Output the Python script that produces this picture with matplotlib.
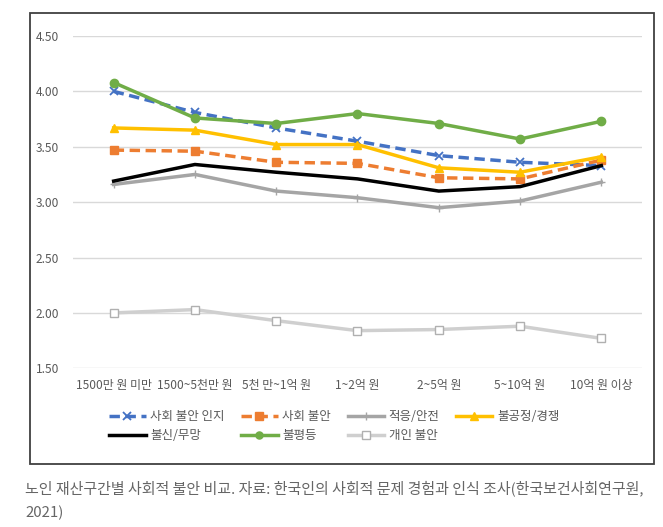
import matplotlib.pyplot as plt
from matplotlib.patches import Rectangle

plt.rcParams['font.family'] = ['Noto Sans CJK KR', 'DejaVu Sans']

# 재산 구간
categories = ["1500만 원 미만", "1500~5천만 원", "5천 만~1억 원", "1~2억 원",
              "2~5억 원", "5~10억 원", "10억 원 이상"]

# 시리즈 값
awareness = [4.00, 3.81, 3.67, 3.55, 3.42, 3.36, 3.33]   # 사회 불안 인지
social = [3.47, 3.46, 3.36, 3.35, 3.22, 3.21, 3.38]      # 사회 불안
adapt = [3.16, 3.25, 3.10, 3.04, 2.95, 3.01, 3.18]       # 적응/안전
unfair = [3.67, 3.65, 3.52, 3.52, 3.31, 3.27, 3.41]      # 불공정/경쟁
distrust = [3.19, 3.34, 3.27, 3.21, 3.10, 3.14, 3.33]    # 불신/무망
inequality = [4.08, 3.76, 3.71, 3.80, 3.71, 3.57, 3.73]  # 불평등
personal = [2.00, 2.03, 1.93, 1.84, 1.85, 1.88, 1.77]    # 개인 불안

yticks = [1.5, 2.0, 2.5, 3.0, 3.5, 4.0, 4.5]

fig = plt.figure(figsize=(6.63, 5.27), dpi=100)

# 차트 테두리
fig.patches.append(Rectangle((30 / 663, 1 - 464 / 527), 624 / 663, 451 / 527,
                             transform=fig.transFigure, fill=False,
                             edgecolor="#404040", linewidth=1.3))

ax = fig.add_axes([73 / 663, 1 - 368.3 / 527, 569 / 663, 332.3 / 527])
x = list(range(len(categories)))

h1, = ax.plot(x, awareness, color="#4472C4", linewidth=2.5, linestyle=(0, (3, 1.6)),
              marker="x", markersize=6, markeredgewidth=1.3, label="사회 불안 인지")
h2, = ax.plot(x, social, color="#ED7D31", linewidth=2.5, linestyle=(0, (3, 1.6)),
              marker="s", markersize=6, label="사회 불안")
h3, = ax.plot(x, adapt, color="#A5A5A5", linewidth=2.5,
              marker="+", markersize=6, markeredgewidth=1, label="적응/안전")
h4, = ax.plot(x, unfair, color="#FFC000", linewidth=2.5,
              marker="^", markersize=6, label="불공정/경쟁")
h5, = ax.plot(x, distrust, color="black", linewidth=2.5, label="불신/무망")
h6, = ax.plot(x, inequality, color="#70AD47", linewidth=2.5,
              marker="o", markersize=6, label="불평등")
h7, = ax.plot(x, personal, color="#CFCFCF", linewidth=2.5,
              marker="s", markersize=6, markerfacecolor="white",
              markeredgecolor="#B0B0B0", markeredgewidth=1, label="개인 불안")

ax.set_xlim(-0.5, len(categories) - 0.5)
ax.set_ylim(1.5, 4.5)
ax.set_yticks(yticks)
ax.set_yticklabels([f"{v:.2f}" for v in yticks])
ax.set_xticks(x)
ax.set_xticklabels(categories)
ax.tick_params(axis="both", length=0, labelsize=8.6, labelcolor="#595959")
ax.tick_params(axis="y", pad=10)
ax.tick_params(axis="x", pad=8)
ax.grid(axis="y", color="#D9D9D9", linewidth=1)
ax.set_axisbelow(True)
for s in ax.spines.values():
    s.set_visible(False)

# ncol=4는 열 우선으로 채우므로 순서를 맞춰 줌
order = [h1, h5, h2, h6, h3, h7, h4]
fig.legend(order, [h.get_label() for h in order], ncol=4, frameon=False,
           loc="upper left", bbox_to_anchor=(98 / 663, 1 - 399 / 527),
           fontsize=9, labelcolor="#595959", handlelength=2.9,
           handletextpad=0.4, columnspacing=1.3, labelspacing=0.45,
           markerscale=0.85)

fig.text(25 / 663, 1 - 488 / 527,
         "노인 재산구간별 사회적 불안 비교. 자료: 한국인의 사회적 문제 경험과 인식 조사(한국보건사회연구원,",
         fontsize=10.8, color="#666666", va="center")
fig.text(25 / 663, 1 - 513 / 527, "2021)", fontsize=10.8, color="#666666", va="center")

fig.savefig("out.png", dpi=100)
